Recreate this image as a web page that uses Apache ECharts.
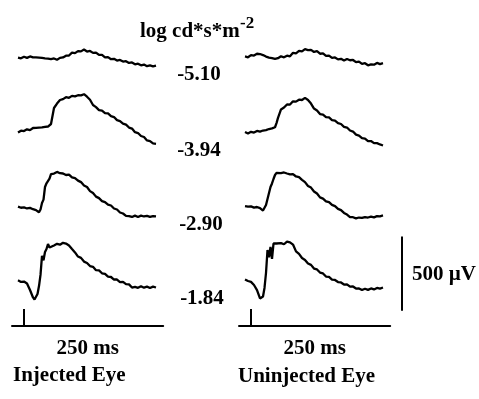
<!DOCTYPE html>
<html>
<head>
<meta charset="utf-8" />
<title>ERG</title>
<script src="https://cdn.jsdelivr.net/npm/echarts@6/dist/echarts.min.js"></script>
<style>
  html, body { margin: 0; padding: 0; background: #fff; }
  #main { width: 479px; height: 399px; }
</style>
</head>
<body>
<div id="main"></div>
<script type="text/javascript">
    // sample times, ms after the flash
    var timeMs = [-10, -5, 0, 5, 10, 15, 17.5, 20, 22.5, 25, 27.5, 30, 32.5, 35, 37.5, 40, 42.5, 45,
        50, 55, 60, 65, 70, 75, 80, 85, 90, 95, 100, 105, 110, 115, 120, 125, 130, 135, 140, 145,
        150, 155, 160, 165, 170, 175, 180, 185, 190, 195, 200, 205, 210, 215, 220];

    var intensityLabels = ['-5.10', '-3.94', '-2.90', '-1.84'];

    // injected eye, uV
    var inj510 = [-4, -9, 2, -6, 4, -3, 5, -2, 6, -4, 3, -6, 1, -9, -2, -11, -4, -14, -10, -19, -6, -3, 9, 10, 29, 26,
        40, 38, 50, 37, 41, 28, 30, 14, 14, -3, -1, -15, -12, -24, -20, -31, -28, -40, -37, -49, -45, -56, -51, -62, -57, -63, -58];
    var inj394 = [-3, 9, 6, 18, 13, 27, 21, 28, 23, 30, 25, 31, 27, 35, 30, 37, 43, 54, 162, 192, 216, 222, 235, 231, 244, 240,
        248, 247, 255, 238, 218, 182, 168, 148, 145, 128, 125, 107, 101, 80, 74, 57, 50, 30, 23, -1, -7, -27, -34, -57, -61, -77, -80];
    var inj290 = [3, -5, -3, -10, -6, -15, -11, -21, -25, -36, -17, 27, 50, 135, 160, 172, 192, 222, 226, 237, 228, 226, 216, 219, 200, 195,
        178, 168, 145, 135, 107, 94, 70, 60, 40, 33, 16, 10, -10, -17, -37, -44, -60, -61, -67, -58, -67, -58, -64, -60, -67, -61, -63];
    var inj184 = [5, -6, -4, -17, -61, -111, -125, -122, -88, -34, 41, 169, 140, 196, 216, 250, 226, 236, 240, 251, 245, 258, 253, 240, 216, 193,
        165, 156, 131, 122, 101, 96, 73, 72, 52, 48, 29, 27, 10, 10, -7, -6, -21, -23, -44, -40, -46, -35, -45, -38, -47, -38, -44];

    // uninjected eye, uV
    var uninj510 = [4, -2, 13, 10, 22, 20, 26, 13, 16, 3, 7, -4, 1, -8, -2, -13, -2, -8, 5, -2, 9, 5, 28, 25, 41, 38,
        53, 47, 48, 34, 39, 22, 24, 7, 9, -6, -3, -16, -12, -24, -13, -22, -20, -35, -31, -46, -42, -56, -50, -52, -40, -48, -42];
    var uninj394 = [0, -10, 1, -4, 7, 3, 13, 10, 19, 13, 23, 20, 29, 24, 35, 32, 60, 95, 152, 165, 186, 185, 207, 205, 218, 216,
        230, 216, 192, 158, 145, 121, 118, 101, 98, 80, 77, 60, 54, 35, 30, 10, 3, -18, -24, -41, -44, -61, -61, -75, -75, -84, -91];
    var uninj290 = [6, 2, 4, -4, 0, -8, -12, -24, -14, 14, 54, 95, 135, 159, 189, 216, 230, 226, 229, 233, 226, 220, 222, 206, 202, 183,
        168, 142, 131, 105, 91, 65, 57, 38, 33, 14, 6, -13, -21, -40, -51, -68, -69, -77, -71, -74, -68, -71, -65, -70, -62, -63, -57];
    var uninj184 = [10, 0, -6, -27, -61, -118, -122, -105, -47, 54, 209, 160, 230, 150, 253, 243, 253, 249, 256, 248, 266, 261, 246, 200, 183, 155,
        142, 118, 109, 84, 78, 57, 51, 30, 28, 10, 7, -7, -10, -24, -23, -38, -37, -51, -50, -61, -52, -60, -50, -57, -47, -51, -44];

    var stimTick = [0, 1];        // flash marker on the time bar
    var scaleBar = [-200, 300];   // 500 uV calibration

    var panels = [[inj510, inj394, inj290, inj184], [uninj510, uninj394, uninj290, uninj184]];

    // layout
    var rowBase = [57, 132, 207, 281];
    var flashX = [24, 251];
    var tMin = -20, tMax = 232, vMin = -200, vMax = 300;
    var pxPerMs = 0.6, uvPerPx = 6.75;
    var font = '"Liberation Serif", "Times New Roman", serif';

    var grids = [], xAxes = [], yAxes = [], series = [];
    function addGrid(g, xa, ya) {
        grids.push(g);
        var i = grids.length - 1;
        xa.gridIndex = i; ya.gridIndex = i;
        xAxes.push(xa); yAxes.push(ya);
        return i;
    }

    panels.forEach(function (traces, p) {
        var left = flashX[p] + tMin * pxPerMs;
        var width = (tMax - tMin) * pxPerMs;
        traces.forEach(function (vals, r) {
            var gi = addGrid(
                { left: left, width: width, top: rowBase[r] - vMax / uvPerPx, height: (vMax - vMin) / uvPerPx },
                { type: 'value', min: tMin, max: tMax, show: false },
                { type: 'value', min: vMin, max: vMax, show: false });
            series.push({
                type: 'line', xAxisIndex: gi, yAxisIndex: gi, symbol: 'none', silent: true,
                lineStyle: { color: '#000', width: 2.3 },
                data: timeMs.map(function (t, i) { return [t, vals[i]]; })
            });
        });
        // 250 ms time bar with flash tick
        var gi = addGrid(
            { left: left, width: width, top: 309, height: 17 },
            {
                type: 'value', min: tMin, max: tMax,
                axisLine: { show: true, onZero: false, lineStyle: { color: '#000', width: 2 } },
                axisTick: { show: false }, axisLabel: { show: false }, splitLine: { show: false },
                name: '250 ms', nameLocation: 'middle', nameGap: 12,
                nameTextStyle: { color: '#000', fontFamily: font, fontWeight: 'bold', fontSize: 21 }
            },
            { type: 'value', min: 0, max: 1, show: false });
        series.push({
            type: 'line', xAxisIndex: gi, yAxisIndex: gi, symbol: 'none', silent: true,
            lineStyle: { color: '#000', width: 2 },
            data: stimTick.map(function (v) { return [0, v]; })
        });
    });

    // calibration bar
    var gs = addGrid(
        { left: 392, width: 20, top: rowBase[3] - vMax / uvPerPx, height: (vMax - vMin) / uvPerPx },
        { type: 'value', min: -1, max: 1, show: false },
        { type: 'value', min: vMin, max: vMax, show: false });
    series.push({
        type: 'line', xAxisIndex: gs, yAxisIndex: gs, symbol: 'none', silent: true,
        lineStyle: { color: '#000', width: 2 },
        data: scaleBar.map(function (v) { return [0, v]; })
    });

    function txt(s, x, y, size, align) {
        return {
            type: 'text', x: x, y: y, silent: true,
            style: {
                text: s, fill: '#000', font: 'bold ' + size + 'px ' + font,
                align: align || 'left', verticalAlign: 'middle',
                textAlign: align || 'left', textVerticalAlign: 'middle'
            }
        };
    }

    var labelX = [199, 199, 201, 202];
    var labelY = [75, 151, 225, 299];
    var graphics = [
        txt('log cd*s*m', 140, 32, 21),
        txt('-2', 240, 24, 17),
        txt('Injected Eye', 13, 376, 21),
        txt('Uninjected Eye', 238, 377, 21),
        txt('500 \u00b5V', 412, 275, 21)
    ];
    intensityLabels.forEach(function (s, i) {
        graphics.push(txt(s, labelX[i], labelY[i], 21, 'center'));
    });

    var myChart = echarts.init(document.getElementById('main'));
    myChart.setOption({
        animation: false,
        backgroundColor: '#fff',
        grid: grids,
        xAxis: xAxes,
        yAxis: yAxes,
        series: series,
        graphic: graphics
    });
</script>
</body>
</html>
